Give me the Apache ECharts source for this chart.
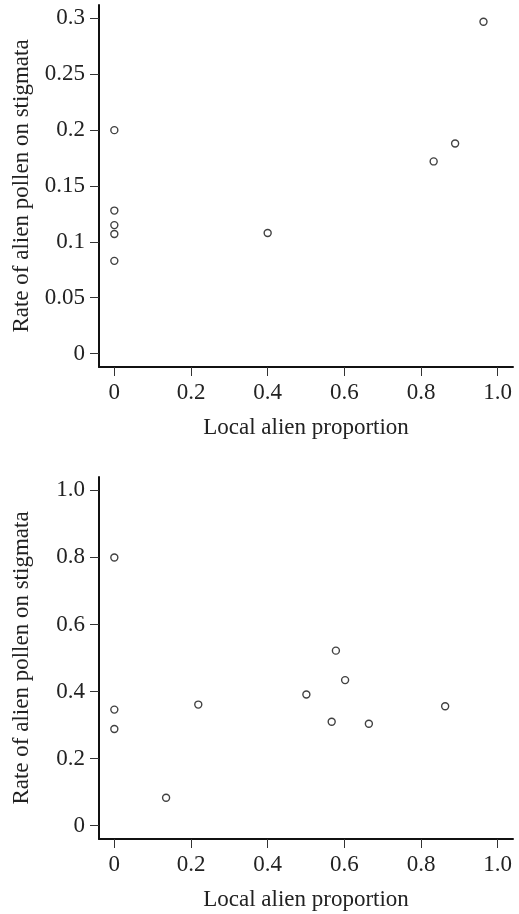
<!DOCTYPE html>
<html>
<head>
<meta charset="utf-8">
<style>
  html, body { margin: 0; padding: 0; background: #fff; }
  #chart { width: 519px; height: 914px; }
</style>
<script src="https://cdn.jsdelivr.net/npm/echarts@6/dist/echarts.min.js"></script>
</head>
<body>
<div id="chart"></div>
<script>
// top panel
const topX = [0, 0, 0, 0, 0, 0.4, 0.833, 0.889, 0.963];
const topY = [0.2, 0.128, 0.115, 0.107, 0.083, 0.108, 0.172, 0.188, 0.297];
// bottom panel
const botX = [0, 0, 0, 0.135, 0.219, 0.501, 0.567, 0.578, 0.602, 0.664, 0.863];
const botY = [0.8, 0.346, 0.288, 0.083, 0.361, 0.391, 0.31, 0.522, 0.434, 0.304, 0.356];

const xTicks = [0, 0.2, 0.4, 0.6, 0.8, 1.0];
const xTickLabels = ['0', '0.2', '0.4', '0.6', '0.8', '1.0'];
const topYTicks = [0, 0.05, 0.1, 0.15, 0.2, 0.25, 0.3];
const topYTickLabels = ['0', '0.05', '0.1', '0.15', '0.2', '0.25', '0.3'];
const botYTicks = [0, 0.2, 0.4, 0.6, 0.8, 1.0];
const botYTickLabels = ['0', '0.2', '0.4', '0.6', '0.8', '1.0'];

const xName = 'Local alien proportion';
const yName = 'Rate of alien pollen on stigmata';

const FONT = '"Liberation Serif", "Times New Roman", serif';
const TEXT = '#222';
const SIZE = 23;

function labelFor(ticks, labels) {
  return v => {
    const i = ticks.findIndex(t => Math.abs(t - v) < 1e-9);
    return i < 0 ? '' : labels[i];
  };
}

function xAxis(gridIndex) {
  return {
    type: 'value',
    gridIndex,
    min: -0.04,
    max: 1.04,
    name: xName,
    nameLocation: 'middle',
    nameGap: 49,
    nameTextStyle: { fontFamily: FONT, fontSize: SIZE, color: TEXT },
    axisLine: { show: true, onZero: false, lineStyle: { color: '#111', width: 2 } },
    axisTick: { show: true, length: 9, customValues: xTicks, lineStyle: { color: '#333', width: 1 } },
    axisLabel: {
      customValues: xTicks,
      formatter: labelFor(xTicks, xTickLabels),
      margin: 14,
      fontFamily: FONT, fontSize: SIZE, color: TEXT,
    },
    splitLine: { show: false },
  };
}

function yAxis(gridIndex, min, max, ticks, labels) {
  return {
    type: 'value',
    gridIndex,
    min,
    max,
    name: yName,
    nameLocation: 'middle',
    nameGap: 66,
    nameTextStyle: { fontFamily: FONT, fontSize: SIZE, color: TEXT },
    axisLine: { show: true, onZero: false, lineStyle: { color: '#111', width: 2 } },
    axisTick: { show: true, length: 9, customValues: ticks, lineStyle: { color: '#333', width: 1 } },
    axisLabel: {
      customValues: ticks,
      formatter: labelFor(ticks, labels),
      margin: 14,
      fontFamily: FONT, fontSize: SIZE, color: TEXT,
    },
    splitLine: { show: false },
  };
}

function points(xs, ys) {
  return xs.map((x, i) => [x, ys[i]]);
}

const pointStyle = {
  symbol: 'circle',
  symbolSize: 7,
  itemStyle: { color: '#fff', borderColor: '#111', borderWidth: 1.4 },
};

const chart = echarts.init(document.getElementById('chart'), null, { renderer: 'canvas' });
chart.setOption({
  backgroundColor: '#fff',
  animation: false,
  grid: [
    { left: 99, top: 5, width: 414, height: 362 },
    { left: 99, top: 477, width: 414, height: 362 },
  ],
  xAxis: [xAxis(0), xAxis(1)],
  yAxis: [
    yAxis(0, -0.012, 0.312, topYTicks, topYTickLabels),
    yAxis(1, -0.04, 1.04, botYTicks, botYTickLabels),
  ],
  series: [
    { type: 'scatter', xAxisIndex: 0, yAxisIndex: 0, data: points(topX, topY), ...pointStyle },
    { type: 'scatter', xAxisIndex: 1, yAxisIndex: 1, data: points(botX, botY), ...pointStyle },
  ],
});
</script>
</body>
</html>
